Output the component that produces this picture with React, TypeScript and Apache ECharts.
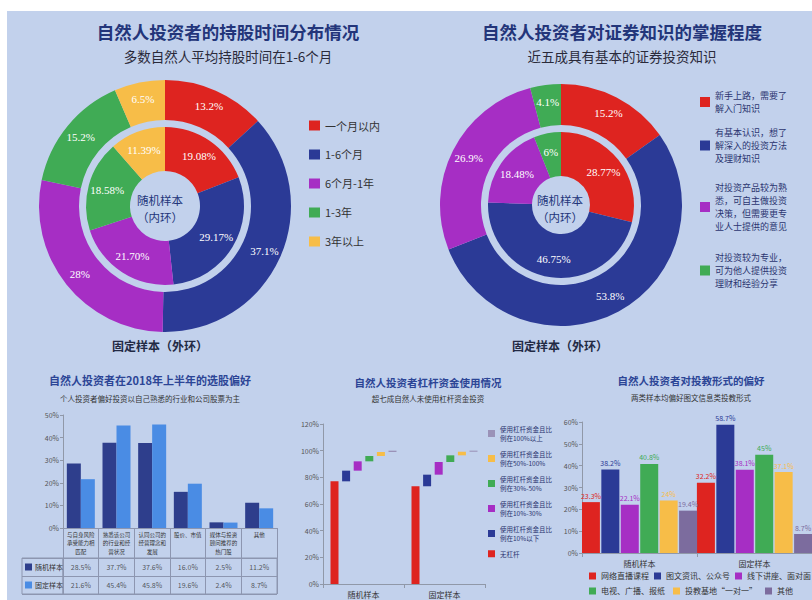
import React, { useEffect, useRef } from 'react';
import * as echarts from 'echarts';

// ---------- data ----------
const holdCats = ['一个月以内', '1-6个月', '6个月-1年', '1-3年', '3年以上'];
const holdOuter = [13.2, 37.1, 28, 15.2, 6.5];
const holdInner = [19.08, 29.17, 21.7, 18.58, 11.39];

const knowCats = [
  '新手上路，需要了解入门知识',
  '有基本认识，想了解深入的投资方法及理财知识',
  '对投资产品较为熟悉，可自主做投资决策，但需要更专业人士提供的意见',
  '对投资较为专业，可为他人提供投资理财和经验分享',
];
const knowLegendText = [
  '新手上路，需要了\n解入门知识',
  '有基本认识，想了\n解深入的投资方法\n及理财知识',
  '对投资产品较为熟\n悉，可自主做投资\n决策，但需要更专\n业人士提供的意见',
  '对投资较为专业，\n可为他人提供投资\n理财和经验分享',
];
const knowOuter = [15.2, 53.8, 26.9, 4.1];
const knowInner = [28.77, 46.75, 18.48, 6];

const structCats = [
  '与自身风险承受能力相匹配',
  '熟悉该公司的行业和经营状况',
  '认同公司的经营理念和发展',
  '股价、市值',
  '媒体与投资顾问推荐的热门股',
  '其他',
];
const structSeries = ['随机样本', '固定样本'];
const structRandom = [28.5, 37.7, 37.6, 16.0, 2.5, 11.2];
const structFixed = [21.6, 45.4, 45.8, 19.6, 2.4, 8.7];

const leverCats = ['随机样本', '固定样本'];
const leverNames = ['无杠杆', '杠杆比例10%以下', '杠杆比例10%-30%', '杠杆比例30%-50%', '杠杆比例50%-100%', '杠杆比例100%以上'];
const leverLegendText = ['无杠杆', '使用杠杆资金且比\n例在10%以下', '使用杠杆资金且比\n例在10%-30%', '使用杠杆资金且比\n例在30%-50%', '使用杠杆资金且比\n例在50%-100%', '使用杠杆资金且比\n例在100%以上'];
const leverRandom = [77, 8, 7, 4, 3, 1];
const leverFixed = [73.3, 8.7, 9.5, 5, 2.7, 0.8];

const eduCats = ['随机样本', '固定样本'];
const eduNames = ['网络直播课程', '图文资讯、公众号', '线下讲座、面对面', '电视、广播、报纸', '投教基地“一对一”', '其他'];
const eduRandom = [23.3, 38.2, 22.1, 40.8, 24, 19.4];
const eduFixed = [32.2, 58.7, 38.1, 45, 37.1, 8.7];

// ---------- styles ----------
const RED = '#de2420';
const BLUE = '#2b3a96';
const PURPLE = '#a62ec4';
const GREEN = '#40ab55';
const YELLOW = '#f7bd48';
const GRAY = '#7c6c9e';
const pieColors = [RED, BLUE, PURPLE, GREEN, YELLOW];
const leverColors = [RED, BLUE, PURPLE, GREEN, YELLOW, '#9a92b8'];
const eduColors = [RED, BLUE, PURPLE, GREEN, YELLOW, GRAY];
const DARKBAR = '#2e3e8c';
const LIGHTBAR = '#4a8ce4';
const FONT = '"Noto Sans CJK SC", "Noto Sans", sans-serif';
const TABLE_LINE = '#8d96b0';
const AXIS_LINE = '#9098a8';

function txt(x: number, y: number, text: string, size: number, color: string, bold = false) {
  return {
    type: 'text',
    x,
    y,
    z: 100,
    silent: true,
    style: {
      text,
      fill: color,
      font: `${bold ? 'bold ' : ''}${size}px ${FONT}`,
      align: 'center',
      verticalAlign: 'middle',
      textAlign: 'center',
      textVerticalAlign: 'middle',
      lineHeight: Math.round(size * 1.5),
    },
  };
}

function buildOption(): any {
  const pieLabel = (fmt: (v: number) => string) => ({
    show: true,
    position: 'inside',
    color: '#ffffff',
    fontSize: 11,
    fontFamily: '"Liberation Serif", serif',
    formatter: (p: any) => fmt(p.value),
  });

  const pies = [
    {
      type: 'pie', center: [165, 206], radius: [86, 126],
      data: holdCats.map((n, i) => ({ name: n, value: holdOuter[i], itemStyle: { color: pieColors[i] } })),
      label: pieLabel((v) => `${v}%`),
    },
    {
      type: 'pie', center: [165, 206], radius: [35, 79],
      data: holdCats.map((n, i) => ({ name: n, value: holdInner[i], itemStyle: { color: pieColors[i] } })),
      label: pieLabel((v) => `${v.toFixed(2)}%`),
    },
    {
      type: 'pie', center: [561, 205], radius: [80, 121],
      data: knowCats.map((n, i) => ({ name: n, value: knowOuter[i], itemStyle: { color: pieColors[i] } })),
      label: pieLabel((v) => `${v}%`),
    },
    {
      type: 'pie', center: [561, 205], radius: [29, 73],
      data: knowCats.map((n, i) => ({ name: n, value: knowInner[i], itemStyle: { color: pieColors[i] } })),
      label: pieLabel((v) => `${v}%`),
    },
  ].map((s) => ({ ...s, startAngle: 90, clockwise: true, avoidLabelOverlap: false, labelLine: { show: false }, silent: true }));

  // waterfall bases computed from the values
  const baseOf = (arr: number[]) => arr.map((_, i) => arr.slice(0, i).reduce((a, b) => a + b, 0));
  const baseR = baseOf(leverRandom);
  const baseF = baseOf(leverFixed);
  const leverSeries: any[] = [];
  leverNames.forEach((n, i) => {
    leverSeries.push({
      type: 'bar', name: `_base${i}`, stack: `s${i}`, xAxisIndex: 3, yAxisIndex: 3,
      data: [baseR[i], baseF[i]], itemStyle: { color: 'transparent' }, barWidth: 8, barGap: '45%', silent: true,
    });
    leverSeries.push({
      type: 'bar', name: n, stack: `s${i}`, xAxisIndex: 3, yAxisIndex: 3,
      data: [leverRandom[i], leverFixed[i]], itemStyle: { color: leverColors[i] }, barWidth: 8, barGap: '45%',
    });
  });

  const eduSeries = eduNames.map((n, i) => ({
    type: 'bar', name: n, xAxisIndex: 4, yAxisIndex: 4,
    data: [eduRandom[i], eduFixed[i]],
    itemStyle: { color: eduColors[i] },
    barWidth: 18, barGap: '8%',
    label: { show: true, position: 'top', distance: 3, color: eduColors[i], fontSize: 7, formatter: '{c}%' },
  }));

  const structBars = [
    { type: 'bar', name: structSeries[0], xAxisIndex: 0, yAxisIndex: 0, data: structRandom, itemStyle: { color: DARKBAR }, barWidth: 14, barGap: '0%' },
    { type: 'bar', name: structSeries[1], xAxisIndex: 0, yAxisIndex: 0, data: structFixed, itemStyle: { color: LIGHTBAR }, barWidth: 14, barGap: '0%' },
  ];
  const tableCells = {
    type: 'scatter', xAxisIndex: 1, yAxisIndex: 1, symbolSize: 1, itemStyle: { color: 'transparent' }, silent: true,
    data: [
      ...structRandom.map((v, i) => [i, 0, v]),
      ...structFixed.map((v, i) => [i, 1, v]),
    ],
    label: { show: true, position: 'inside', fontSize: 7, color: '#333', formatter: (p: any) => `${p.value[2].toFixed(1)}%` },
  };

  const valueAxisCommon = (grid: number, max: number, interval: number) => ({
    gridIndex: grid, type: 'value', min: 0, max, interval,
    axisLine: { show: true, lineStyle: { color: AXIS_LINE } },
    axisTick: { show: true, length: 3, lineStyle: { color: AXIS_LINE } },
    splitLine: { show: false },
    axisLabel: { formatter: '{value}%', fontSize: 7, color: '#555', margin: 4 },
  });
  const catAxisCommon = (grid: number, data: string[]) => ({
    gridIndex: grid, type: 'category', data,
    axisLine: { show: true, lineStyle: { color: AXIS_LINE } },
    axisTick: { show: true, length: 4, interval: 0, lineStyle: { color: AXIS_LINE } },
    axisLabel: { fontSize: 8, color: '#333', margin: 6, interval: 0 },
  });

  const knowTops = [89, 126, 181, 251];

  return {
    animation: false,
    backgroundColor: '#ffffff',
    textStyle: { fontFamily: FONT },
    graphic: [
      { type: 'rect', z: -10, silent: true, shape: { x: 7, y: 11, width: 805, height: 589 }, style: { fill: '#c2d1ec' } },
      txt(228, 31, '自然人投资者的持股时间分布情况', 17.5, '#23357a', true),
      txt(228, 56, '多数自然人平均持股时间在1-6个月', 13.5, '#2a2a3a'),
      txt(622, 31, '自然人投资者对证券知识的掌握程度', 17.5, '#23357a', true),
      txt(622, 56, '近五成具有基本的证券投资知识', 13.5, '#2a2a3a'),
      txt(160, 208, '随机样本\n（内环）', 11.5, '#23357a'),
      txt(560, 208, '随机样本\n（内环）', 11.5, '#23357a'),
      txt(160, 345, '固定样本（外环）', 12, '#222a44', true),
      txt(560, 345, '固定样本（外环）', 12, '#222a44', true),
      txt(150, 380, '自然人投资者在2018年上半年的选股偏好', 11, '#2c4596', true),
      txt(150, 398, '个人投资者偏好投资以自己熟悉的行业和公司股票为主', 7.5, '#333'),
      txt(428, 382, '自然人投资者杠杆资金使用情况', 10.5, '#2c4596', true),
      txt(428, 398, '超七成自然人未使用杠杆资金投资', 7.5, '#333'),
      txt(691, 380, '自然人投资者对投教形式的偏好', 10.5, '#2c4596', true),
      txt(691, 397, '两类样本均偏好图文信息类投教形式', 7.5, '#333'),
    ],
    legend: [
      {
        data: holdCats, orient: 'vertical', left: 309, top: 120, padding: 0,
        itemWidth: 11, itemHeight: 10, itemGap: 18, icon: 'rect',
        textStyle: { fontSize: 11, color: '#333' },
      },
      ...knowCats.map((n, i) => ({
        data: [n], orient: 'vertical', left: 700, top: knowTops[i], padding: 0,
        itemWidth: 10, itemHeight: 10, icon: 'rect',
        formatter: () => knowLegendText[i],
        textStyle: { fontSize: 9, lineHeight: 13, color: '#2b3570' },
      })),
      {
        data: [...leverNames].reverse(), orient: 'vertical', left: 488, top: 424, padding: 0,
        itemWidth: 7, itemHeight: 7, itemGap: 6, icon: 'rect',
        formatter: (name: string) => leverLegendText[leverNames.indexOf(name)],
        textStyle: { fontSize: 6.5, lineHeight: 9.5, color: '#2b3570' },
      },
      {
        data: eduNames.slice(0, 3), orient: 'horizontal', left: 589, top: 572, padding: 0,
        itemWidth: 7, itemHeight: 7, itemGap: 5, icon: 'rect',
        textStyle: { fontSize: 8, color: '#333' },
      },
      {
        data: eduNames.slice(3), orient: 'horizontal', left: 589, top: 587, padding: 0,
        itemWidth: 7, itemHeight: 7, itemGap: 8, icon: 'rect',
        textStyle: { fontSize: 8, color: '#333' },
      },
    ],
    grid: [
      { left: 63, top: 415, width: 214, height: 113 },
      { left: 63, top: 558, width: 214, height: 36, show: true, borderColor: TABLE_LINE, borderWidth: 1 },
      { left: 22, top: 558, width: 41, height: 36, show: true, borderColor: TABLE_LINE, borderWidth: 1 },
      { left: 323, top: 424, width: 162, height: 160 },
      { left: 582, top: 422, width: 236, height: 131 },
    ],
    xAxis: [
      {
        gridIndex: 0, type: 'category', data: structCats,
        axisLine: { show: true, lineStyle: { color: TABLE_LINE } },
        axisTick: { show: true, length: 30, interval: 0, lineStyle: { color: TABLE_LINE } },
        axisLabel: { interval: 0, fontSize: 5.5, lineHeight: 8.2, width: 32, overflow: 'breakAll', color: '#333', margin: 3, verticalAlign: 'top' },
      },
      {
        gridIndex: 1, type: 'category', data: structCats,
        axisLine: { show: false }, axisTick: { show: false }, axisLabel: { show: false },
        splitLine: { show: true, interval: 0, lineStyle: { color: TABLE_LINE } },
      },
      { gridIndex: 2, type: 'value', show: false, min: 0, max: 1 },
      catAxisCommon(3, leverCats),
      catAxisCommon(4, eduCats),
    ],
    yAxis: [
      valueAxisCommon(0, 50, 10),
      {
        gridIndex: 1, type: 'category', data: structSeries, inverse: true,
        axisLine: { show: false }, axisTick: { show: false }, axisLabel: { show: false },
        splitLine: { show: true, interval: 0, lineStyle: { color: TABLE_LINE } },
      },
      {
        gridIndex: 2, type: 'category', data: structSeries, inverse: true,
        axisLine: { show: false }, axisTick: { show: false },
        splitLine: { show: true, interval: 0, lineStyle: { color: TABLE_LINE } },
        axisLabel: {
          inside: true, margin: 3,
          formatter: (v: string, i: number) => `{m${i}|}{t|${v}}`,
          rich: {
            m0: { width: 7, height: 7, backgroundColor: DARKBAR },
            m1: { width: 7, height: 7, backgroundColor: LIGHTBAR },
            t: { fontSize: 7, color: '#333', padding: [0, 0, 0, 3] },
          },
        },
      },
      valueAxisCommon(3, 120, 20),
      valueAxisCommon(4, 60, 10),
    ],
    series: [...pies, ...structBars, tableCells, ...leverSeries, ...eduSeries],
  };
}

export default function App() {
  const ref = useRef<HTMLDivElement>(null);
  useEffect(() => {
    if (!ref.current) return;
    const chart = echarts.init(ref.current, undefined, { renderer: 'svg' });
    chart.setOption(buildOption());
    return () => chart.dispose();
  }, []);
  return <div ref={ref} style={{ position: 'fixed', left: 0, top: 0, width: 812, height: 600 }} />;
}
